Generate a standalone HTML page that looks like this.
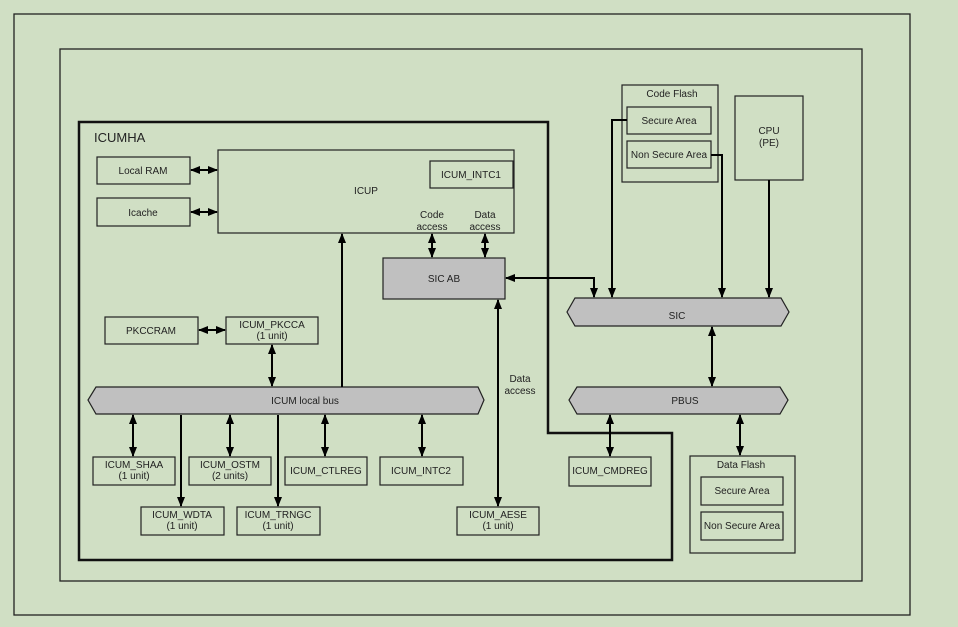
<!DOCTYPE html>
<html><head><meta charset="utf-8"><style>
html,body{margin:0;padding:0;background:#d0dfc4;}
svg{display:block;font-family:"Liberation Sans",sans-serif;}
text{font-size:10px;fill:#222;text-anchor:middle;}
</style></head><body>
<svg width="958" height="627" viewBox="0 0 958 627" xmlns="http://www.w3.org/2000/svg">
<defs>
<marker id="a" viewBox="0 0 10 10" refX="9" refY="5" markerWidth="5" markerHeight="5" orient="auto-start-reverse"><path d="M0,1 L10,5 L0,9 z" fill="#000"/></marker>
</defs>
<rect width="958" height="627" fill="#d0dfc4"/>
<g fill="none" stroke="#222" stroke-width="1.3">
<rect x="14" y="14" width="896" height="601"/>
<rect x="60" y="49" width="802" height="532"/>
</g>
<path d="M79,122 H548 V433 H672 V560 H79 Z" fill="none" stroke="#111" stroke-width="2.5"/>
<text x="94" y="142" style="font-size:13px;text-anchor:start">ICUMHA</text>

<g fill="none" stroke="#222" stroke-width="1.2">
<rect x="218" y="150" width="296" height="83"/>
<rect x="430" y="161" width="83" height="27"/>
<rect x="97" y="157" width="93" height="27"/>
<rect x="97" y="198" width="93" height="28"/>
<rect x="105" y="317" width="93" height="27"/>
<rect x="226" y="317" width="92" height="27"/>
<rect x="93" y="457" width="82" height="28"/>
<rect x="189" y="457" width="82" height="28"/>
<rect x="285" y="457" width="82" height="28"/>
<rect x="380" y="457" width="83" height="28"/>
<rect x="141" y="507" width="83" height="28"/>
<rect x="237" y="507" width="83" height="28"/>
<rect x="457" y="507" width="82" height="28"/>
<rect x="569" y="457" width="82" height="29"/>
<rect x="690" y="456" width="105" height="97"/>
<rect x="701" y="477" width="82" height="28"/>
<rect x="701" y="512" width="82" height="28"/>
<rect x="622" y="85" width="96" height="97"/>
<rect x="627" y="107" width="84" height="27"/>
<rect x="627" y="141" width="84" height="27"/>
<rect x="735" y="96" width="68" height="84"/>
</g>
<rect x="383" y="258" width="122" height="41" fill="#c0c0c0" stroke="#222" stroke-width="1.2"/>
<g fill="#c0c0c0" stroke="#222" stroke-width="1.2">
<polygon points="96,387 478,387 484,400 478,414 96,414 88,400"/>
<polygon points="575,298 781,298 789,312 781,326 575,326 567,312"/>
<polygon points="577,387 780,387 788,400 780,414 577,414 569,400"/>
</g>

<g stroke="#000" stroke-width="2" fill="none" marker-start="url(#a)" marker-end="url(#a)">
<line x1="191" y1="170" x2="217" y2="170"/>
<line x1="191" y1="212" x2="217" y2="212"/>
<line x1="432" y1="234" x2="432" y2="257"/>
<line x1="485" y1="234" x2="485" y2="257"/>
<line x1="199" y1="330" x2="225" y2="330"/>
<line x1="272" y1="345" x2="272" y2="386"/>
<line x1="133" y1="415" x2="133" y2="456"/>
<line x1="230" y1="415" x2="230" y2="456"/>
<line x1="325" y1="415" x2="325" y2="456"/>
<line x1="422" y1="415" x2="422" y2="456"/>
<line x1="498" y1="300" x2="498" y2="506"/>
<line x1="712" y1="327" x2="712" y2="386"/>
<line x1="610" y1="415" x2="610" y2="456"/>
<line x1="740" y1="415" x2="740" y2="455"/>
<path d="M506,278 H594 V297"/>
</g>
<g stroke="#000" stroke-width="2" fill="none" marker-end="url(#a)">
<line x1="342" y1="387" x2="342" y2="234"/>
<line x1="181" y1="415" x2="181" y2="506"/>
<line x1="278" y1="415" x2="278" y2="506"/>
<path d="M627,120 H612 V297"/>
<path d="M711,155 H722 V297"/>
<line x1="769" y1="180" x2="769" y2="297"/>
</g>

<text x="366" y="194">ICUP</text>
<text x="471" y="178">ICUM_INTC1</text>
<text x="143" y="174">Local RAM</text>
<text x="143" y="216">Icache</text>
<text x="432" y="218">Code</text><text x="432" y="230">access</text>
<text x="485" y="218">Data</text><text x="485" y="230">access</text>
<text x="444" y="282">SIC AB</text>
<text x="151" y="334">PKCCRAM</text>
<text x="272" y="328">ICUM_PKCCA</text><text x="272" y="339">(1 unit)</text>
<text x="305" y="404">ICUM local bus</text>
<text x="134" y="468">ICUM_SHAA</text><text x="134" y="479">(1 unit)</text>
<text x="230" y="468">ICUM_OSTM</text><text x="230" y="479">(2 units)</text>
<text x="326" y="474">ICUM_CTLREG</text>
<text x="421" y="474">ICUM_INTC2</text>
<text x="182" y="518">ICUM_WDTA</text><text x="182" y="529">(1 unit)</text>
<text x="278" y="518">ICUM_TRNGC</text><text x="278" y="529">(1 unit)</text>
<text x="498" y="518">ICUM_AESE</text><text x="498" y="529">(1 unit)</text>
<text x="520" y="382">Data</text><text x="520" y="394">access</text>
<text x="677" y="319">SIC</text>
<text x="685" y="404">PBUS</text>
<text x="610" y="474">ICUM_CMDREG</text>
<text x="741" y="468">Data Flash</text>
<text x="742" y="494">Secure Area</text>
<text x="742" y="529">Non Secure Area</text>
<text x="672" y="97">Code Flash</text>
<text x="669" y="124">Secure Area</text>
<text x="669" y="158">Non Secure Area</text>
<text x="769" y="134">CPU</text><text x="769" y="146">(PE)</text>
</svg>
</body></html>
